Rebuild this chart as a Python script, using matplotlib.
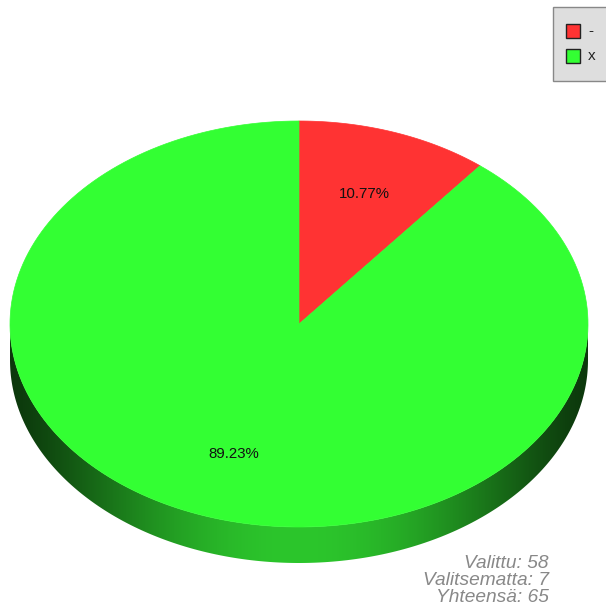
import numpy as np
import matplotlib
matplotlib.use("Agg")
import matplotlib.pyplot as plt
from matplotlib.patches import Polygon, Rectangle

plt.rcParams["font.family"] = ["Liberation Sans", "DejaVu Sans"]

labels = ["-", "x"]
counts = [7, 58]
colors = ["#ff3333", "#33ff33"]
footer_names = ["Valittu", "Valitsematta", "Yhteensä"]

total = sum(counts)
footer_values = [counts[1], counts[0], total]

# ellipse of the pie top (pixel units), depth of the rim
cx, cy, rx, ry = 299, 324, 289, 203
depth = 36

fig = plt.figure(figsize=(6.06, 6.09), dpi=100)
ax = fig.add_axes([0, 0, 1, 1])
ax.set_xlim(0, 606)
ax.set_ylim(609, 0)
ax.axis("off")


def arc(t0, t1, dy=0, n=200):
    t = np.linspace(t0, t1, n)
    return np.column_stack([cx + rx * np.sin(t), cy + dy - ry * np.cos(t)])


# side of the pie: lower half of the ellipse extruded downward
upper = arc(np.pi / 2, 3 * np.pi / 2)
lower = arc(3 * np.pi / 2, np.pi / 2, dy=depth)
side = Polygon(np.vstack([upper, lower]), closed=True, facecolor="none", edgecolor="none")
ax.add_patch(side)

u = np.linspace(-1, 1, 400)
w = np.cos(np.pi / 2 * u) ** 1.3
dark = np.array([12, 56, 12]) / 255
bright = np.array([44, 198, 44]) / 255
grad = dark[None, :] + w[:, None] * (bright - dark)[None, :]
img = ax.imshow(grad[None, :, :], extent=(cx - rx, cx + rx, cy + ry + depth, cy - 2),
                aspect="auto", interpolation="bilinear", zorder=1)
img.set_clip_path(side)

# top face slices, clockwise from 12 o'clock
start = 0.0
for cnt, col in zip(counts, colors):
    frac = cnt / total
    end = start + frac * 2 * np.pi
    pts = np.vstack([[cx, cy], arc(start, end)])
    ax.add_patch(Polygon(pts, closed=True, facecolor=col, edgecolor=col, lw=0.5, zorder=2))
    mid = (start + end) / 2
    k = 0.68
    ax.text(cx + k * rx * np.sin(mid), cy - k * ry * np.cos(mid), f"{frac * 100:.2f}%",
            ha="center", va="center", fontsize=10.8, color="#111111", zorder=3)
    start = end

# legend box
ax.add_patch(Rectangle((552.5, 6.5), 70, 74, facecolor="#dedede", edgecolor="#888888", lw=1, zorder=4))
for i, (lab, col) in enumerate(zip(labels, colors)):
    y = 24 + i * 25
    ax.add_patch(Rectangle((566, y), 14, 14, facecolor=col, edgecolor="#222222", lw=1, zorder=5))
    ax.text(588, y + 7, lab, ha="left", va="center", fontsize=11, color="#222222", zorder=5)

# summary text
for i, (name, val) in enumerate(zip(footer_names, footer_values)):
    ax.text(549, 563 + i * 17.5, f"{name}: {val}", ha="right", va="center",
            fontsize=13.8, style="italic", color="#888888", zorder=5)

fig.savefig("out.png", dpi=100)
